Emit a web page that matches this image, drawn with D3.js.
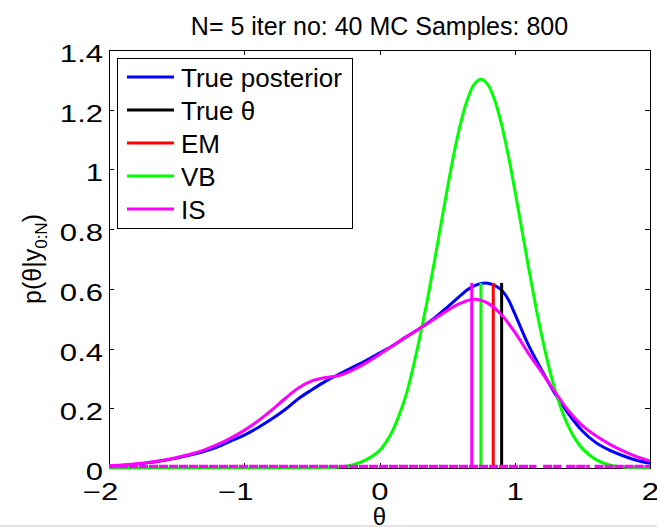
<!DOCTYPE html>
<html><head><meta charset="utf-8">
<script src="https://cdn.jsdelivr.net/npm/d3@7"></script>
<style>
body{margin:0;background:#fff;}
svg{display:block;font-family:"Liberation Sans",Arial,Helvetica,sans-serif;}
</style>
</head><body>
<svg id="chart" width="657" height="527"></svg>
<script>
// ---------------- data ----------------
const titleText = "N= 5 iter no: 40 MC Samples: 800";
const theta = [-2.0,-1.9,-1.8,-1.7,-1.6,-1.5,-1.4,-1.3,-1.2,-1.1,-1.0,-0.9,-0.8,-0.7,-0.6,-0.5,-0.4,-0.3,-0.2,-0.1,
  0.0,0.1,0.2,0.3,0.4,0.5,0.6,0.7,0.8,0.9,1.0,1.1,1.2,1.3,1.4,1.5,1.6,1.7,1.8,1.9,2.0];
const blueTheta = [-2.0,-1.9,-1.8,-1.7,-1.6,-1.5,-1.4,-1.3,-1.2,-1.1,-1.0,-0.9,-0.8,-0.7,-0.6,-0.5,-0.4,-0.3,-0.2,-0.1,
  0.0,0.1,0.2,0.3,0.4,0.5,0.6,0.65,0.7,0.75,0.8,0.85,0.9,0.95,1.0,1.05,1.1,1.2,1.3,1.4,1.5,1.6,1.7,1.8,1.9,2.0];
const truePosterior = [0.007,0.009,0.013,0.018,0.025,0.033,0.043,0.055,0.070,0.090,0.110,0.135,0.163,0.195,0.232,0.262,0.290,0.314,0.337,0.360,
  0.385,0.410,0.440,0.468,0.500,0.538,0.578,0.597,0.610,0.618,0.619,0.612,0.597,0.566,0.517,0.464,0.413,0.327,0.247,0.180,0.124,0.085,0.060,0.041,0.026,0.016];
const isDensity = [0.008,0.010,0.014,0.019,0.026,0.035,0.046,0.060,0.078,0.100,0.126,0.157,0.193,0.232,0.268,0.292,0.303,0.310,0.328,0.352,
  0.380,0.410,0.440,0.468,0.497,0.527,0.552,0.565,0.552,0.514,0.455,0.385,0.320,0.253,0.190,0.142,0.108,0.080,0.057,0.038,0.024];
const vbTheta = [-2.0,-1.0,-0.5,-0.4,-0.3,-0.2,-0.1,0.0,0.05,0.1,0.15,0.2,0.25,0.3,0.35,0.4,0.45,0.5,0.55,0.6,0.65,0.7,0.75,
  0.8,0.85,0.9,0.95,1.0,1.05,1.1,1.15,1.2,1.25,1.3,1.35,1.4,1.45,1.5,1.6,1.7,1.8,1.9,2.0];
const vbDensity = [0.0,0.0,0.0003,0.001,0.0036,0.0105,0.027,0.058,0.088,0.128,0.183,0.250,0.340,0.442,0.554,0.677,0.805,0.932,1.052,1.155,1.234,1.285,1.302,
  1.285,1.234,1.155,1.052,0.932,0.805,0.677,0.554,0.442,0.343,0.259,0.190,0.136,0.095,0.065,0.028,0.0105,0.0036,0.001,0.0003];
// point estimates (vertical lines)
const estNames  = ["True θ","EM","VB","IS"];
const estTheta  = [0.903,0.841,0.750,0.682];
const estHeight = [0.62,0.62,0.62,0.62];
const estColors = ["#000000","#ff0000","#00ff00","#ff00ff"];
// IS sample markers along theta axis (runs of dense samples)
const isSampleRuns = [[-2.0,1.16],[1.21,1.345],[1.38,1.555],[1.59,2.0]];
const xTicks = [-2,-1,0,1,2];
const yTicks = [0,0.2,0.4,0.6,0.8,1.0,1.2,1.4];
const legendLabels = ["True posterior","True θ","EM","VB","IS"];
const legendColors = ["#0000ff","#000000","#ff0000","#00ff00","#ff00ff"];

// ---------------- chart ----------------
const svg = d3.select("#chart");
const L=109, R=650, T=50, B=468;
const x = d3.scaleLinear().domain([-2,2]).range([L,R]);
const y = d3.scaleLinear().domain([0,1.4]).range([B,T]);
const SX = 1.35; // tick label horizontal stretch

svg.append("rect").attr("width",657).attr("height",527).attr("fill","#fff");
svg.append("rect").attr("x",0).attr("y",525).attr("width",657).attr("height",2).attr("fill","#e4e4e4");

// axes
const gx = svg.append("g").attr("transform",`translate(0,${B})`)
  .call(d3.axisBottom(x).tickValues(xTicks).tickSize(-5).tickSizeOuter(0).tickFormat(d3.format("d")));
gx.selectAll("text").attr("y",32).attr("dy",0).attr("font-size",23).attr("fill","#000")
  .attr("font-family","Liberation Sans, Arial, sans-serif")
  .attr("dx", d => d<0 ? "-0.29em" : 0)
  .attr("transform",`scale(${SX},1)`);
svg.append("g").attr("transform",`translate(0,${T})`)
  .call(d3.axisTop(x).tickValues(xTicks).tickSize(-5).tickSizeOuter(0).tickFormat(""));
const gy = svg.append("g").attr("transform",`translate(${L},0)`)
  .call(d3.axisLeft(y).tickValues(yTicks).tickSize(-5).tickSizeOuter(0).tickFormat(d3.format("~g")));
gy.selectAll("text").attr("x",-6/SX).attr("dy","0.5em").attr("font-size",23).attr("fill","#000")
  .attr("font-family","Liberation Sans, Arial, sans-serif")
  .attr("transform",`scale(${SX},1)`);
svg.append("g").attr("transform",`translate(${R},0)`)
  .call(d3.axisRight(y).tickValues(yTicks).tickSize(-5).tickSizeOuter(0).tickFormat(""));
svg.selectAll(".domain, .tick line").attr("stroke","#000").attr("stroke-width",1).attr("shape-rendering","crispEdges");
svg.append("rect").attr("x",L).attr("y",T).attr("width",R-L).attr("height",B-T)
  .attr("fill","none").attr("stroke","#000").attr("stroke-width",1).attr("shape-rendering","crispEdges");

// title & labels
svg.append("text").attr("x",(L+R)/2).attr("y",35).attr("text-anchor","middle")
  .attr("font-size",25).attr("fill","#000").text(titleText);
svg.append("text").attr("x",(L+R)/2).attr("y",525).attr("text-anchor","middle")
  .attr("font-size",24).attr("fill","#000").text("θ");
const yl = svg.append("text").attr("transform",`translate(41,${(T+B)/2}) rotate(-90)`)
  .attr("text-anchor","middle").attr("font-size",25).attr("fill","#000");
yl.append("tspan").text("p(θ|y");
yl.append("tspan").attr("font-size",17).attr("dy",6).text("0:N");
yl.append("tspan").attr("dy",-6).text(")");

// curves
const line = d3.line().x(d=>x(d[0])).y(d=>y(d[1])).curve(d3.curveCatmullRom.alpha(0.5));
const blue = blueTheta.map((t,i)=>[t,truePosterior[i]]);
const mag = theta.map((t,i)=>[t,isDensity[i]]);
const green = vbTheta.map((t,i)=>[t,vbDensity[i]]);

svg.append("path").attr("d",line(blue)).attr("fill","none").attr("stroke","#0000ff").attr("stroke-width",3);
function vline(i){
  svg.append("line").attr("x1",x(estTheta[i])).attr("x2",x(estTheta[i]))
    .attr("y1",y(0)).attr("y2",y(estHeight[i])).attr("stroke",estColors[i]).attr("stroke-width",3);
}
vline(0); vline(1);
svg.append("path").attr("d",line(green)).attr("fill","none").attr("stroke","#00ff00").attr("stroke-width",3);
vline(2);
svg.append("path").attr("d",line(mag)).attr("fill","none").attr("stroke","#ff00ff").attr("stroke-width",3);
vline(3);
svg.append("g").selectAll("line").data(isSampleRuns).join("line")
  .attr("x1",d=>x(d[0])).attr("x2",d=>x(d[1])).attr("y1",y(0)-1.5).attr("y2",y(0)-1.5)
  .attr("stroke","#ff00ff").attr("stroke-width",3.5).attr("stroke-dasharray","9,1");

// legend
const lg = svg.append("g");
lg.append("rect").attr("x",117).attr("y",58).attr("width",235).attr("height",170)
  .attr("fill","#fff").attr("stroke","#000").attr("stroke-width",1).attr("shape-rendering","crispEdges");
legendLabels.forEach((lab,i)=>{
  const cy = 77 + i*33;
  lg.append("line").attr("x1",127).attr("x2",174).attr("y1",cy).attr("y2",cy)
    .attr("stroke",legendColors[i]).attr("stroke-width",3);
  lg.append("text").attr("x",181).attr("y",cy+9.5).attr("font-size",26).attr("fill","#000").text(lab);
});
</script>
</body></html>
